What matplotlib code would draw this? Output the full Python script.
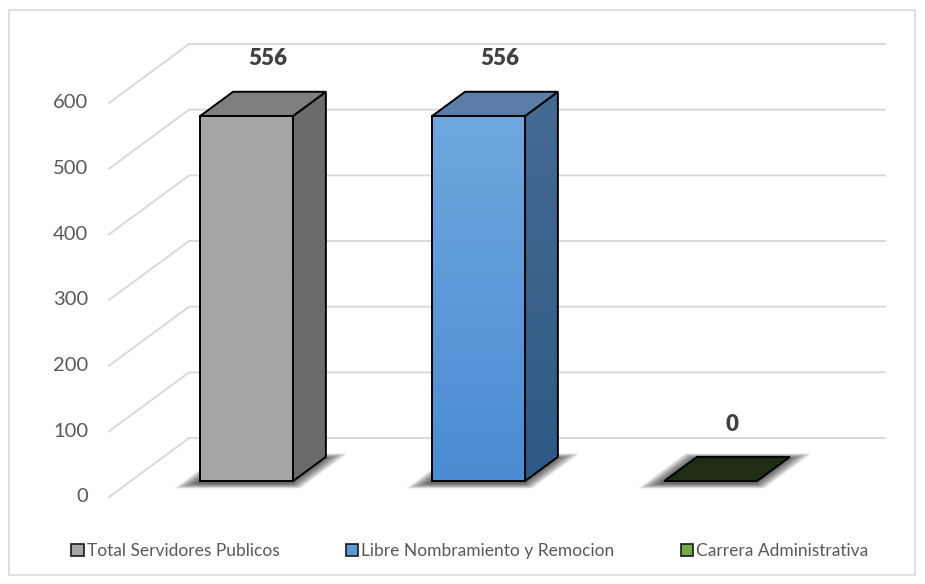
import numpy as np
import matplotlib.pyplot as plt
from matplotlib.patches import Polygon, Patch, Rectangle
from matplotlib.colors import LinearSegmentedColormap

categories = ['Total Servidores Publicos', 'Libre Nombramiento y Remocion', 'Carrera Administrativa']
values = [556, 556, 0]
ticks = [0, 100, 200, 300, 400, 500, 600]

front_top = ['#A6A6A6', '#6FA7DF', '#1F2D16']
front_bot = ['#A6A6A6', '#4A8CD3', '#1F2D16']
side_top = ['#6B6B6B', '#466B93', '#1F2D16']
side_bot = ['#6B6B6B', '#2E5886', '#1F2D16']
top_col = ['#7F7F7F', '#5A7EA8', '#1F2D16']
legend_col = ['#A6A6A6', '#5B9BD5', '#70AD47']

plt.rcParams['font.family'] = ['Lato', 'DejaVu Sans']

fig = plt.figure(figsize=(9.25, 5.84), dpi=100)
ax = fig.add_axes([0, 0, 1, 1])
ax.set_xlim(-0.97, 3.017)
ax.set_ylim(-132.5, 756.8)
ax.axis('off')

# oblique projection: full depth of the floor
DX, DY = 0.345, 89.8
d0, d1 = 0.27, 0.68   # bar depth range
W = 0.4               # bar width
x_lo, x_hi = -0.5, 2.5


def P(x, y, d):
    return (x + d * DX, y + d * DY)


# gridlines: diagonal on the left + along the back wall
for t in ticks:
    a = P(x_lo, t, 0)
    b = P(x_lo, t, 1)
    c = P(x_hi, t, 1)
    ax.plot([a[0], b[0], c[0]], [a[1], b[1], c[1]], color='#D9D9D9', lw=1.4, zorder=1,
            solid_joinstyle='miter')
    ax.text(x_lo - 0.09, t, str(t), ha='right', va='center', fontsize=14.5, color='#595959')

# soft shadows on the floor
for i, v in enumerate(values):
    for k in range(9, 0, -1):
        m = k * 0.008
        md = k * 0.01
        pts = [P(i - W / 2 - m, 0, d0 - md), P(i + W / 2 + m, 0, d0 - md),
               P(i + W / 2 + m, 0, d1 + md), P(i - W / 2 - m, 0, d1 + md)]
        pts = [(px - 0.01, py - 3) for px, py in pts]
        ax.add_patch(Polygon(pts, closed=True, fc='black', ec='none', alpha=0.09, zorder=2))


def grad_face(pts, c1, c2):
    poly = Polygon(pts, closed=True, fc='none', ec='none')
    ax.add_patch(poly)
    xs = [p[0] for p in pts]
    ys = [p[1] for p in pts]
    cmap = LinearSegmentedColormap.from_list('g', [c2, c1])
    g = np.linspace(0, 1, 256).reshape(-1, 1)
    im = ax.imshow(g, cmap=cmap, origin='lower', aspect='auto',
                   extent=[min(xs), max(xs), min(ys), max(ys)], zorder=3)
    im.set_clip_path(poly)


for i, v in enumerate(values):
    fl, fr = i - W / 2, i + W / 2
    front = [P(fl, 0, d0), P(fr, 0, d0), P(fr, v, d0), P(fl, v, d0)]
    side = [P(fr, 0, d0), P(fr, 0, d1), P(fr, v, d1), P(fr, v, d0)]
    top = [P(fl, v, d0), P(fr, v, d0), P(fr, v, d1), P(fl, v, d1)]
    if v > 0:
        grad_face(front, front_top[i], front_bot[i])
        grad_face(side, side_top[i], side_bot[i])
        ax.add_patch(Polygon(front, closed=True, fc='none', ec='black', lw=1.4, zorder=4))
        ax.add_patch(Polygon(side, closed=True, fc='none', ec='black', lw=1.4, zorder=4))
    ax.add_patch(Polygon(top, closed=True, fc=top_col[i], ec='black', lw=1.4, zorder=4,
                         joinstyle='miter'))
    ax.text(i + 0.185, v + 0.68 * DY + 50, str(v), ha='center', va='center',
            fontsize=16, fontweight='heavy', color='#404040', zorder=5)

handles = [Patch(fc=c, ec='#1a1a1a', lw=1.2) for c in legend_col]
leg = fig.legend(handles, categories, loc='center', bbox_to_anchor=(0.508, 1 - 551 / 584),
                 ncol=3, frameon=False, fontsize=12.5, handlelength=0.7, handleheight=0.7,
                 handletextpad=0.2, columnspacing=3.8, labelcolor='#595959')

fig.patches.append(Rectangle((9 / 925, 1 - 575 / 584), 906 / 925, 565 / 584,
                             transform=fig.transFigure, fill=False, ec='#D9D9D9', lw=1.2))

fig.savefig('out.png', dpi=100, facecolor='white')
